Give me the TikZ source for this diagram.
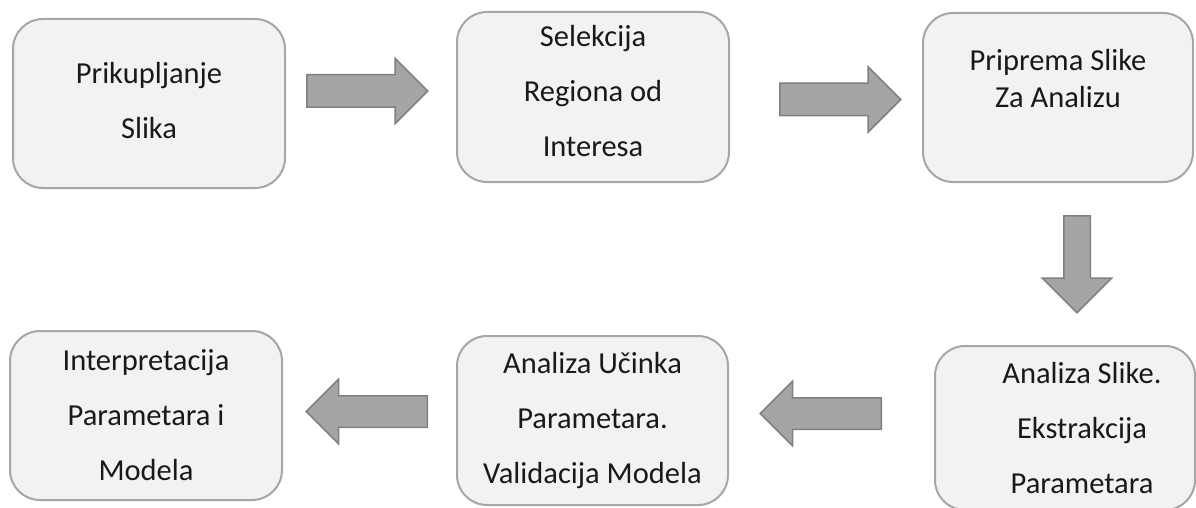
\documentclass[tikz,border=0pt]{standalone}
\usepackage{fontspec}
\setmainfont{Carlito}
\usetikzlibrary{shapes.arrows}

\begin{document}
\begin{tikzpicture}[x=1pt,y=-1pt,
	box/.style={draw=cborder,fill=cfill,line width=2pt,rounded corners=30pt,minimum width=272pt,minimum height=169pt,align=center,text=ctext,font=\fontsize{30.5}{55}\selectfont},
	bigarrow/.style={single arrow,anchor=tail,draw=carrowline,fill=carrow,line width=1.5pt,minimum height=121pt,inner sep=15.5pt,single arrow head extend=16.5pt}]
\definecolor{cfill}{RGB}{242,242,242}       %lightgray
\definecolor{cborder}{RGB}{166,166,166}     %gray
\definecolor{carrow}{RGB}{165,165,165}      %arrowgray
\definecolor{carrowline}{RGB}{128,128,128}  %darkgray
\definecolor{ctext}{RGB}{25,25,25}          %nearblack
\useasboundingbox (0,0) rectangle (1196,508);
\clip (0,0) rectangle (1196,508);
% top row
\node [box] (collect) at (149,103.5) {Prikupljanje\\Slika\rule[-6pt]{0pt}{6pt}};
\node [box,minimum height=170pt] (select) at (593,97) {Selekcija\\Regiona od\\Interesa\rule[-12pt]{0pt}{12pt}};
\node [box,minimum width=270pt,font=\fontsize{30.5}{37}\selectfont] (prepare) at (1058,97.5) {Priprema Slike\\Za Analizu\rule[-38pt]{0pt}{38pt}};
% bottom row
\node [box,minimum width=260pt,minimum height=164pt] (analyse) at (1065,428) {\hspace*{34pt}Analiza Slike.\\\hspace*{34pt}Ekstrakcija\\\hspace*{34pt}Parametara};
\node [box,minimum width=271pt] (validate) at (592.5,420.5) {Analiza Učinka\\Parametara.\\Validacija Modela};
\node [box] (interpret) at (146,415.5) {Interpretacija\\Parametara i\\Modela};
% arrows
\node [bigarrow] (a1) at (306,91) {};
\node [bigarrow] (a2) at (779,99.5) {};
\node [bigarrow,rotate=-90,minimum height=97pt,inner sep=12.5pt,single arrow head extend=21.5pt] (a3) at (1077,215) {};
\node [bigarrow,rotate=180,inner sep=15pt] (a4) at (882,413.5) {};
\node [bigarrow,rotate=180,inner sep=15pt] (a5) at (428,411.5) {};
\end{tikzpicture}
\end{document}
